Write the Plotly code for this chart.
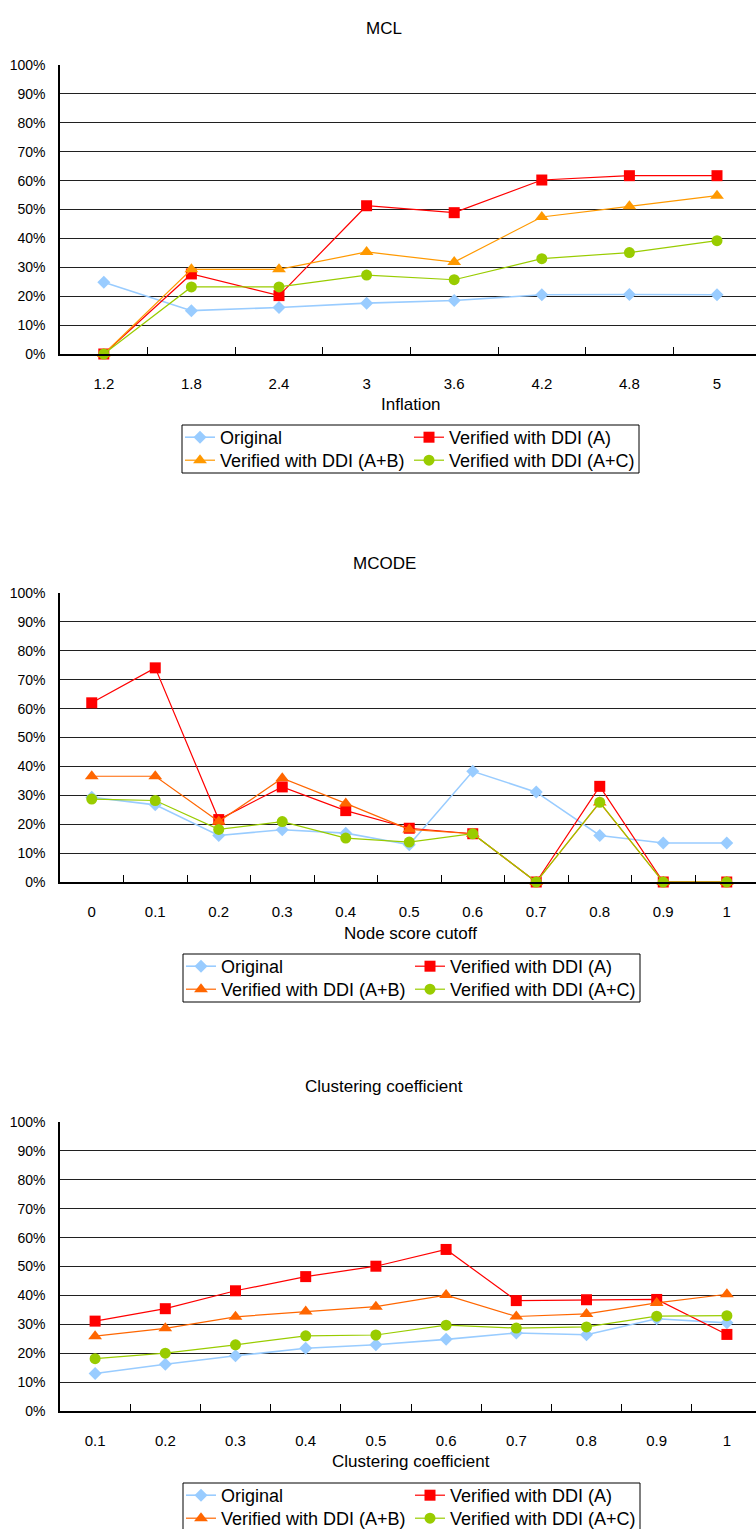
import plotly.graph_objects as go

W, H = 756, 1529

# ---------------- data ----------------
mcl_x = ["1.2", "1.8", "2.4", "3", "3.6", "4.2", "4.8", "5"]
mcl_original = [0.248, 0.150, 0.161, 0.176, 0.185, 0.205, 0.206, 0.205]
mcl_a = [0.0, 0.277, 0.202, 0.513, 0.489, 0.602, 0.617, 0.617]
mcl_ab = [0.0, 0.293, 0.293, 0.353, 0.318, 0.474, 0.511, 0.548]
mcl_ac = [0.0, 0.232, 0.232, 0.273, 0.257, 0.330, 0.351, 0.392]

mcode_x = ["0", "0.1", "0.2", "0.3", "0.4", "0.5", "0.6", "0.7", "0.8", "0.9", "1"]
mcode_original = [0.293, 0.267, 0.161, 0.181, 0.169, 0.129, 0.383, 0.311, 0.161, 0.135, 0.135]
mcode_a = [0.620, 0.741, 0.216, 0.329, 0.247, 0.186, 0.167, 0.0, 0.331, 0.0, 0.0]
mcode_ab = [0.366, 0.366, 0.209, 0.359, 0.272, 0.182, 0.167, 0.0, 0.275, 0.0, 0.0]
mcode_ac = [0.287, 0.282, 0.182, 0.209, 0.152, 0.138, 0.167, 0.0, 0.276, 0.0, 0.0]

cc_x = ["0.1", "0.2", "0.3", "0.4", "0.5", "0.6", "0.7", "0.8", "0.9", "1"]
cc_original = [0.130, 0.162, 0.191, 0.217, 0.229, 0.248, 0.270, 0.264, 0.319, 0.305]
cc_a = [0.311, 0.354, 0.416, 0.465, 0.501, 0.559, 0.382, 0.385, 0.386, 0.265]
cc_ab = [0.259, 0.286, 0.326, 0.344, 0.361, 0.401, 0.327, 0.336, 0.374, 0.404]
cc_ac = [0.181, 0.200, 0.229, 0.260, 0.263, 0.297, 0.287, 0.291, 0.328, 0.330]

series_names = ["Original", "Verified with DDI (A)", "Verified with DDI (A+B)", "Verified with DDI (A+C)"]
titles = ["MCL", "MCODE", "Clustering coefficient"]
axis_titles = ["Inflation", "Node score cutoff", "Clustering coefficient"]
y_ticks = [i / 10 for i in range(11)]
y_tick_text = [f"{i * 10}%" for i in range(11)]

panels = [
    (mcl_x, [mcl_original, mcl_a, mcl_ab, mcl_ac]),
    (mcode_x, [mcode_original, mcode_a, mcode_ab, mcode_ac]),
    (cc_x, [cc_original, cc_a, cc_ab, cc_ac]),
]

# ---------------- styling ----------------
FONT = "Liberation Sans, Arial, sans-serif"
orange_by_panel = ["#FF9900", "#FF6600", "#FF6600"]
blue, red, green = "#99CCFF", "#FF0000", "#99CC00"
symbols = ["diamond", "square", "triangle-up", "circle"]
msizes = [10, 11, 12, 11]

# pixel geometry of each panel (plot top, plot bottom)
plot_px = [(65, 354), (593, 882), (1122, 1411)]
cat_spacing = [87.6, 63.5, 70.2]
x_left_px = 60
title_y_px = [28, 563, 1086]
axtitle_y_px = [405, 933, 1461]
legend_box_px = [(182, 425, 639, 473), (183, 954, 640, 1002), (183, 1483, 640, 1531)]


def py(p):
    return 1 - p / H


fig = go.Figure()
layout = dict(
    width=W, height=H,
    margin=dict(l=0, r=0, t=0, b=0, autoexpand=False),
    paper_bgcolor="white", plot_bgcolor="white",
    font=dict(family=FONT, size=14, color="black"),
    showlegend=True,
    annotations=[], shapes=[],
)

for i, (cats, vals) in enumerate(panels):
    n = i + 1
    xa = "x" if n == 1 else f"x{n}"
    ya = "y" if n == 1 else f"y{n}"
    colors = [blue, red, orange_by_panel[i], green]
    lg_top = "legend" if i == 0 else f"legend{2 * i + 1}"
    lg_bot = f"legend{2 * i + 2}"
    for k in range(4):
        fig.add_trace(go.Scatter(
            x=cats, y=vals[k], name=series_names[k],
            mode="lines+markers",
            line=dict(color=colors[k], width=1.2 if k else 1.6),
            marker=dict(symbol=symbols[k], size=msizes[k], color=colors[k], line=dict(width=0)),
            xaxis=xa, yaxis=ya, cliponaxis=False,
            legend=lg_top if k < 2 else lg_bot,
            hoverinfo="x+y+name",
        ))
    top, bot = plot_px[i]
    layout[f"xaxis{'' if n == 1 else n}"] = dict(
        domain=[x_left_px / W, 1], anchor=ya, type="category",
        range=[-0.5, -0.5 + (W - x_left_px) / cat_spacing[i]],
        showline=True, linecolor="black", linewidth=1.5,
        ticks="inside", tickson="boundaries", ticklen=7, tickcolor="black", tickwidth=1,
        showgrid=False, zeroline=False, ticklabelstandoff=15, automargin=False,
        tickfont=dict(size=15, family=FONT),
        fixedrange=True,
    )
    layout[f"yaxis{'' if n == 1 else n}"] = dict(
        domain=[py(bot), py(top)], anchor=xa, range=[0, 1],
        tickvals=y_ticks, ticktext=y_tick_text,
        showline=True, linecolor="black", linewidth=1.5,
        showgrid=True, gridcolor="#202020", gridwidth=1,
        zeroline=False, ticks="", ticklabelstandoff=10, automargin=False,
        tickfont=dict(size=14, family=FONT),
        fixedrange=True,
    )
    layout["annotations"].append(dict(
        text=titles[i], x=384 / W, y=py(title_y_px[i]), xref="paper", yref="paper",
        xanchor="center", yanchor="middle", showarrow=False, font=dict(size=17, family=FONT)))
    layout["annotations"].append(dict(
        text=axis_titles[i], x=411 / W, y=py(axtitle_y_px[i]), xref="paper", yref="paper",
        xanchor="center", yanchor="middle", showarrow=False, font=dict(size=17, family=FONT)))
    x0, y0, x1, y1 = legend_box_px[i]
    layout["shapes"].append(dict(
        type="rect", xref="paper", yref="paper",
        x0=x0 / W, x1=x1 / W, y0=py(y1), y1=py(y0),
        line=dict(color="black", width=1), fillcolor="rgba(0,0,0,0)", layer="above"))
    for j, lg in enumerate([lg_top, lg_bot]):
        layout[lg] = dict(
            orientation="h", x=(x0 - 2) / W, y=py(y0 - 6 + j * 23),
            xanchor="left", yanchor="top",
            bgcolor="rgba(0,0,0,0)", borderwidth=0,
            font=dict(size=18, family=FONT),
            entrywidth=184, entrywidthmode="pixels",
            itemwidth=30, tracegroupgap=0,
        )

fig.update_layout(**layout)
fig.write_html(
    "out.html",
    config={"displayModeBar": False},
    post_script="document.body.style.margin='0';document.body.style.overflow='hidden';",
)
